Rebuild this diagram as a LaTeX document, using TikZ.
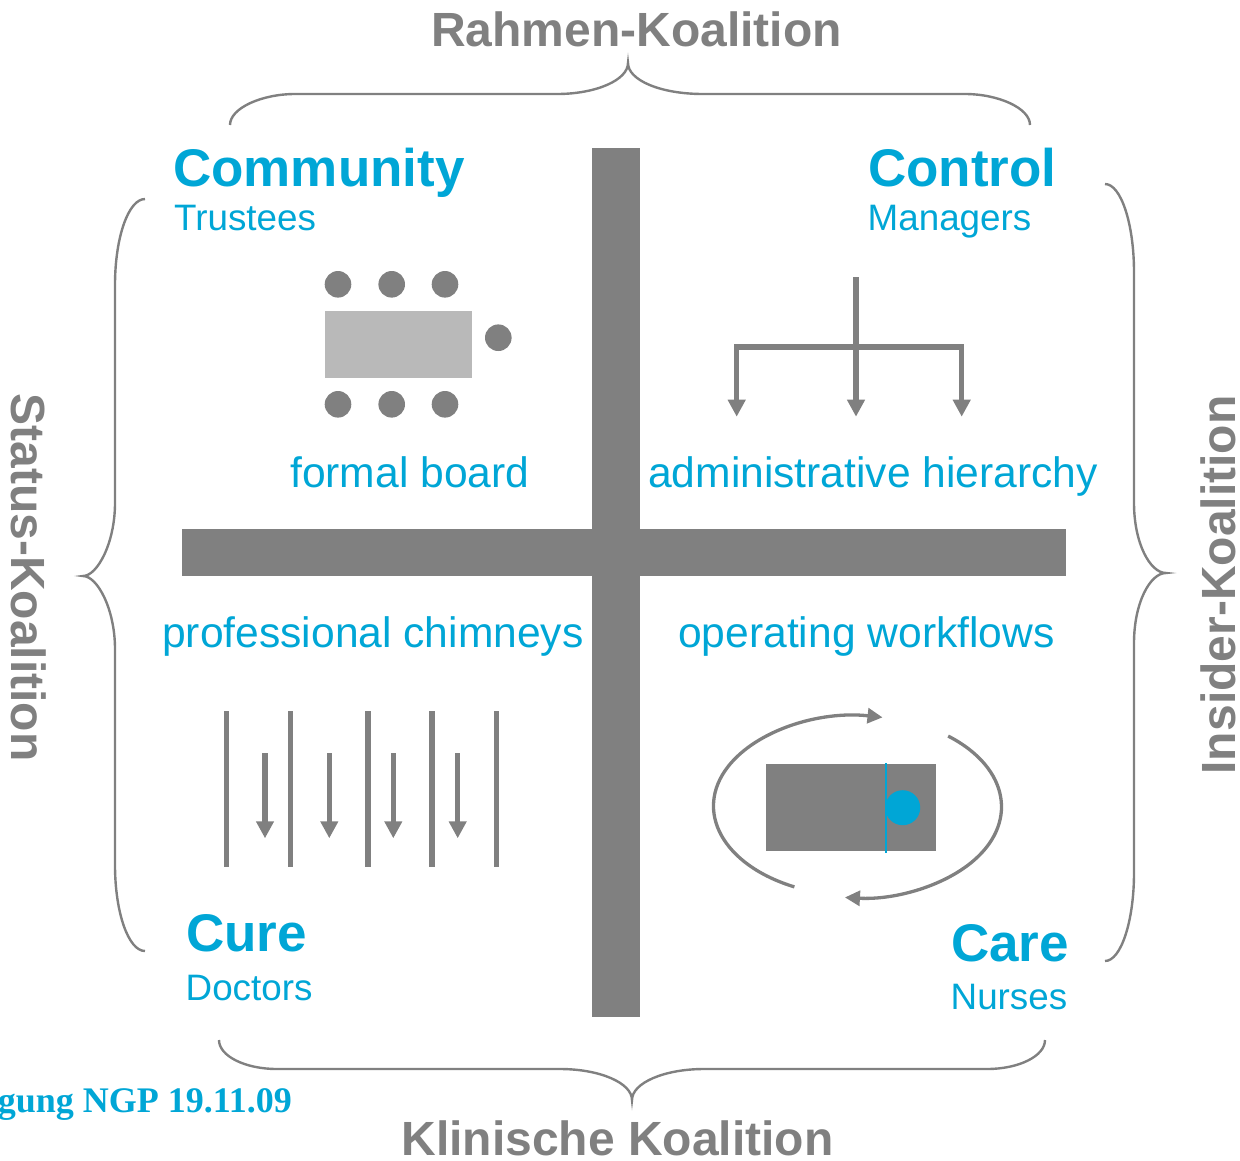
\documentclass[tikz,border=0pt]{standalone}
\usepackage{fontspec}
\setmainfont{Liberation Sans}
\newfontfamily\datefont{Liberation Serif}
\usepackage{tikz}
\usetikzlibrary{arrows.meta}
\definecolor{qblue}{RGB}{0,166,214}
\definecolor{qgray}{RGB}{128,128,128}
\definecolor{qlight}{RGB}{185,185,185}

\begin{document}
\begin{tikzpicture}[x=1pt,y=-1pt,>={Triangle[width=17pt,length=17pt]},
    brace/.style={draw=qgray,line width=2.4pt},
    quad/.style={font=\bfseries\fontsize{53}{53}\selectfont,text=qblue,inner sep=0pt,anchor=base west},
    actor/.style={font=\fontsize{36.8}{36.8}\selectfont,text=qblue,inner sep=0pt,anchor=base west},
    form/.style={font=\fontsize{42.6}{42.6}\selectfont,text=qblue,inner sep=0pt,anchor=base west},
    coal/.style={font=\bfseries\fontsize{48}{48}\selectfont,text=qgray,inner sep=0pt,anchor=base},
    hier/.style={draw=qgray,line width=5.5pt},
    wall/.style={draw=qgray,line width=5.5pt},
    loop/.style={draw=qgray,line width=3.3pt,>={Triangle[width=15pt,length=15pt]}}]
          \useasboundingbox (0,0) rectangle (1240,1160);
          \fill[qgray] (592.3,148) rectangle (640.3,1017);
          \fill[qgray] (182,528.7) rectangle (1066,576);
          \draw[brace] (230,125) .. controls (230,108) and (262,94) .. (295,94) -- (557,94) .. controls (596,94) and (628,80) .. (628,63) .. controls (628,80) and (660,94) .. (703,94) -- (965,94) .. controls (998,94) and (1030,108) .. (1030,125);
          \draw[brace] (219,1040) .. controls (219,1056) and (245,1069) .. (277,1069) -- (560,1069) .. controls (600,1069) and (632,1083) .. (632,1100) .. controls (632,1083) and (664,1069) .. (704,1069) -- (987,1069) .. controls (1019,1069) and (1045,1056) .. (1045,1040);
          \draw[brace] (145,199) .. controls (128.4,199) and (115,237.5) .. (115,285) -- (115,503) .. controls (115,543) and (97.3,576) .. (83,576) .. controls (97.3,576) and (115,609) .. (115,649) -- (115,865) .. controls (115,912.5) and (128.4,951) .. (145,951);
          \draw[brace] (1105,184) .. controls (1121,184) and (1134,224) .. (1134,272) -- (1134,503) .. controls (1134,543) and (1150,573) .. (1166,573) .. controls (1150,573) and (1134,603) .. (1134,643) -- (1134,873) .. controls (1134,921) and (1121,961) .. (1105,961);
          \node[fill=qlight,minimum width=146.7pt,minimum height=66.7pt,inner sep=0pt] (table) at (398.3,344.3) {};
          \fill[qgray] (338,284.3) circle[radius=13.3];
          \fill[qgray] (391.7,284.3) circle[radius=13.3];
          \fill[qgray] (445,284.3) circle[radius=13.3];
          \fill[qgray] (338,404.3) circle[radius=13.3];
          \fill[qgray] (391.7,404.3) circle[radius=13.3];
          \fill[qgray] (445,404.3) circle[radius=13.3];
          \fill[qgray] (498.3,337.7) circle[radius=13.3];
          \coordinate (h0) at (856,277);
          \coordinate (h1) at (856,347);
          \coordinate (hl) at (736.7,347);
          \coordinate (hr) at (961.7,347);
          \draw[hier] (h0) -- (h1);
          \draw[hier,line cap=rect] (hl) -- (hr);
          \draw[hier,->] (hl) -- ++(0,69.7);
          \draw[hier,->] (h1) -- ++(0,69.7);
          \draw[hier,->] (hr) -- ++(0,69.7);
          \draw[wall] (226.7,711) -- (226.7,867);
          \draw[wall] (290.7,711) -- (290.7,867);
          \draw[wall] (368,711) -- (368,867);
          \draw[wall] (432,711) -- (432,867);
          \draw[wall] (496.7,711) -- (496.7,867);
          \draw[wall,->] (265,753.3) -- (265,838.3);
          \draw[wall,->] (329.3,753.3) -- (329.3,838.3);
          \draw[wall,->] (393.3,753.3) -- (393.3,838.3);
          \draw[wall,->] (457.7,753.3) -- (457.7,838.3);
          \node[fill=qgray,minimum width=170.3pt,minimum height=86.7pt,inner sep=0pt] (bed) at (850.8,807.3) {};
          \fill[qblue] (902.7,807.7) circle[radius=17.5];
          \draw[qblue,line width=2.5pt] (886,763) -- (886,853);
          \draw[loop,->] ([shift={(116:144 and 90)}]857.5,806) arc[start angle=116,end angle=280,x radius=144,y radius=90];
          \draw[loop,->] ([shift={(-51:144 and 90)}]857.5,806) arc[start angle=-51,end angle=95,x radius=144,y radius=91];
          \node[quad] (community) at (173,186) {Community};
          \node[actor] (trustees) at (174,230) {Trustees};
          \node[quad] (control) at (868,186) {Control};
          \node[actor] (managers) at (867.5,230) {Managers};
          \node[form] (board) at (290,487) {formal board};
          \node[form] (hierarchy) at (648,487) {administrative hierarchy};
          \node[form] (chimneys) at (162,647) {professional chimneys};
          \node[form] (workflows) at (678,647) {operating workflows};
          \node[quad] (cure) at (186,951) {Cure};
          \node[actor] (doctors) at (185.5,1000) {Doctors};
          \node[quad] (care) at (951,961) {Care};
          \node[actor] (nurses) at (950.5,1009) {Nurses};
          \node[coal] (rahmen) at (636.5,46.7) {Rahmen-Koalition};
          \node[coal] (klinisch) at (617.5,1155) {Klinische Koalition};
          \node[coal,rotate=90] (insider) at (1235,585) {Insider-Koalition};
          \node[coal,rotate=-90] (status) at (12,577.5) {Status-Koalition};
          \node[anchor=base east,inner sep=0pt,text=qblue,font=\datefont\bfseries\fontsize{36}{36}\selectfont] (date) at (292,1112) {gung NGP 19.11.09};
        \end{tikzpicture}
\end{document}
